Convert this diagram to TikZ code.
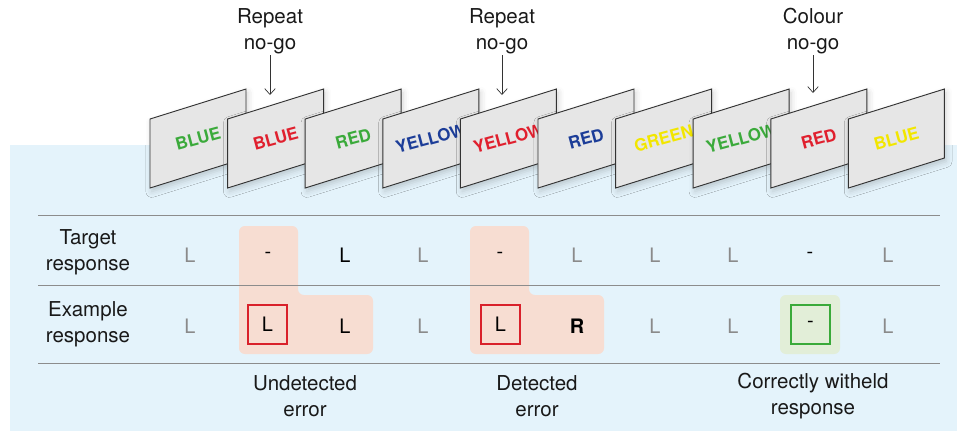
\documentclass[tikz,border=0pt]{standalone}
\usepackage{fontspec}
\setmainfont{TeX Gyre Heros}
\usetikzlibrary{arrows.meta,shadows.blur}
\definecolor{bgblue}{HTML}{E4F3FB}
\definecolor{cardfill}{HTML}{E6E6E6}
\definecolor{cgreen}{HTML}{3BAA3B}
\definecolor{cred}{HTML}{E0202E}
\definecolor{cblue}{HTML}{1C3D98}
\definecolor{cyellow}{HTML}{F2E600}
\definecolor{pinkhl}{HTML}{F7DDD2}
\definecolor{greenhl}{HTML}{E2EED8}
\definecolor{rulegray}{HTML}{8C8C8C}
\definecolor{lgray}{HTML}{8A8A8A}
\definecolor{boxred}{HTML}{D9212B}
\definecolor{boxgreen}{HTML}{3AAA3A}
\tikzset{
  card/.style={fill=cardfill, draw=black!80, line width=0.8pt, line join=miter,
    blur shadow={shadow xshift=1.5pt, shadow yshift=-3pt, shadow blur radius=5pt, shadow opacity=18}},
  cardword/.style={font=\bfseries\fontsize{14.5}{16}\selectfont, rotate=15, inner sep=0pt},
  lab/.style={font=\fontsize{17.5}{22}\selectfont, align=center, inner sep=1pt, text=black!90},
  gl/.style={font=\fontsize{17}{20}\selectfont, text=lgray, inner sep=1pt},
  bl/.style={font=\fontsize{17}{20}\selectfont, text=black, inner sep=1pt},
  rulel/.style={draw=rulegray, line width=0.8pt},
  arr/.style={draw=black!80, line width=0.6pt, -{Straight Barb[length=5pt,width=9pt]}},
  errbox/.style={draw=boxred, line width=1pt},
  okbox/.style={draw=boxgreen, line width=1pt}
}
\begin{document}
\begin{tikzpicture}[x=0.03cm,y=-0.03cm]
\useasboundingbox (0,0) rectangle (957,437);
% background
\fill[bgblue] (10,145) rectangle (957,431);
% cards
\foreach \i/\w/\c in {1/BLUE/cgreen,2/BLUE/cred,3/RED/cgreen,4/YELLOW/cblue,5/YELLOW/cred,6/RED/cblue,7/GREEN/cyellow,8/YELLOW/cgreen,9/RED/cred,10/BLUE/cyellow}{
  \pgfmathsetmacro\xa{150+77.6*(\i-1)}
  \draw[card] (\xa,119) -- ++(96,-30) -- ++(0,69) -- ++(-96,30) -- cycle;
  \node[cardword, text=\c] (w\i) at (\xa+48,138.5) {\w};
}
% top labels
\node[lab] (lab1) at (270,31) {Repeat\\no-go};
\node[lab] (lab2) at (502,31) {Repeat\\no-go};
\node[lab] (lab3) at (813,31) {Colour\\no-go};
\coordinate (a1) at (270,95);
\coordinate (a2) at (502,95);
\coordinate (a3) at (813,93);
\draw[arr] (lab1.south) -- (a1);
\draw[arr] (lab2.south) -- (a2);
\draw[arr] (lab3.south) -- (a3);
% highlights
\fill[pinkhl, rounded corners=5] (239,226) -- (298,226) -- (298,295) -- (373,295) -- (373,354) -- (239,354) -- cycle;
\fill[pinkhl, rounded corners=5] (470,226) -- (529,226) -- (529,295) -- (604,295) -- (604,354) -- (470,354) -- cycle;
\fill[greenhl, rounded corners=5] (780,295) rectangle (840,354);
% rules
\coordinate (r1a) at (38,215); \coordinate (r1b) at (940,215);
\coordinate (r2a) at (38,285); \coordinate (r2b) at (940,285);
\coordinate (r3a) at (38,363); \coordinate (r3b) at (940,363);
\draw[rulel] (r1a) -- (r1b);
\draw[rulel] (r2a) -- (r2b);
\draw[rulel] (r3a) -- (r3b);
% row labels
\node[lab] (rowT) at (88,252) {Target\\response};
\node[lab] (rowE) at (88,324) {Example\\response};
% target row
\node[gl] (t1) at (190,255) {L};
\node[bl] (t2) at (268,255) {-};
\node[bl] (t3) at (345,255) {L};
\node[gl] (t4) at (423,255) {L};
\node[bl] (t5) at (500,255) {-};
\node[gl] (t6) at (577,255) {L};
\node[gl] (t7) at (655,255) {L};
\node[gl] (t8) at (733,255) {L};
\node[bl] (t9) at (810,255) {-};
\node[gl] (t10) at (888,255) {L};
% example row
\node[bl, errbox, minimum width=39*0.03cm, minimum height=39*0.03cm] (e2) at (267.5,324.5) {L};
\node[gl] (e1) at (190,326) {L};
\node[bl] (e3) at (345,326) {L};
\node[gl] (e4) at (423,326) {L};
\node[bl, errbox, minimum width=39*0.03cm, minimum height=39*0.03cm] (e5) at (500.5,324.5) {L};
\node[bl, font=\bfseries\fontsize{17}{20}\selectfont] (e6) at (577,326) {R};
\node[gl] (e7) at (655,326) {L};
\node[gl] (e8) at (733,326) {L};
\node[bl, okbox, minimum width=39*0.03cm, minimum height=39*0.03cm] (e9) at (810.5,324.5) {-};
\node[gl] (e10) at (888,326) {L};
% bottom labels
\node[lab] (b1) at (305,396) {Undetected\\error};
\node[lab] (b2) at (537,396) {Detected\\error};
\node[lab] (b3) at (813,396) {Correctly witheld\\response};
\end{tikzpicture}
\end{document}
